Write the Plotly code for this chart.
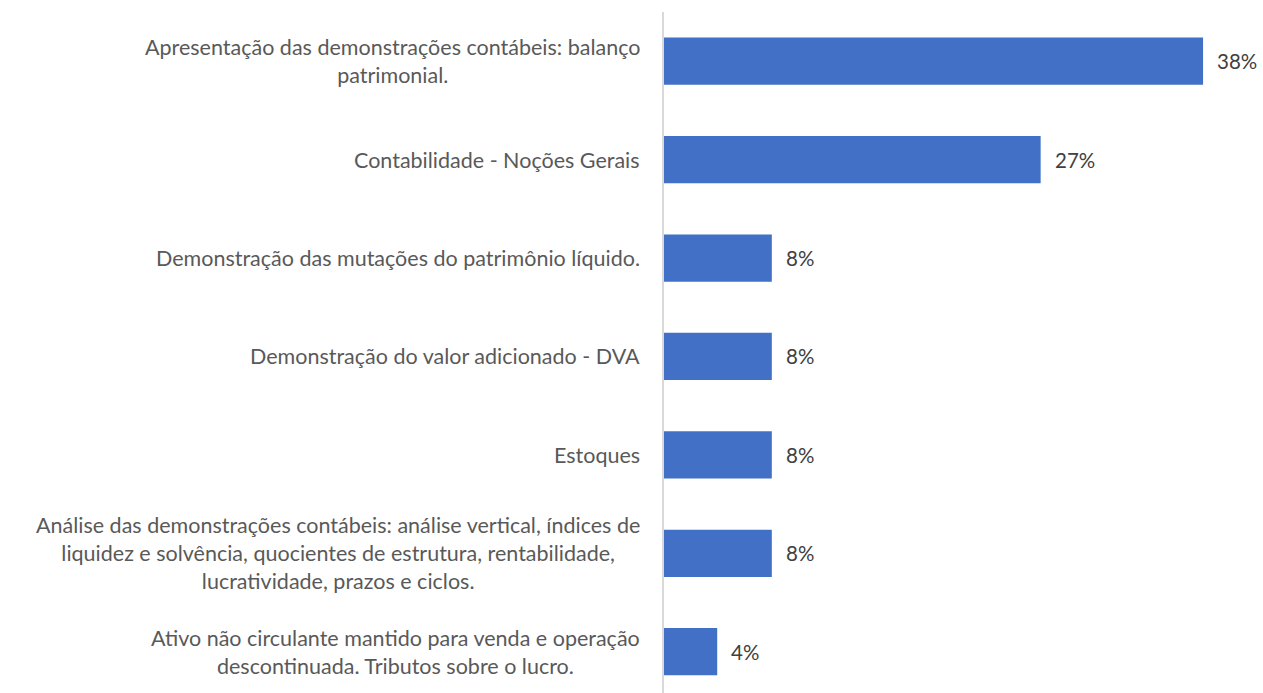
import plotly.graph_objects as go

categories = [
    "Apresentação das demonstrações contábeis: balanço<br>patrimonial.",
    "Contabilidade - Noções Gerais",
    "Demonstração das mutações do patrimônio líquido.",
    "Demonstração do valor adicionado - DVA",
    "Estoques",
    "Análise das demonstrações contábeis: análise vertical, índices de<br>liquidez e solvência, quocientes de estrutura, rentabilidade,<br>lucratividade, prazos e ciclos.",
    "Ativo não circulante mantido para venda e operação<br>descontinuada. Tributos sobre o lucro.",
]
values = [0.385, 0.269, 0.077, 0.077, 0.077, 0.077, 0.038]

FONT = "Lato"
idx = list(range(len(categories)))

fig = go.Figure()
fig.add_trace(go.Bar(
    y=idx, x=values, orientation="h",
    marker=dict(color="#4270C6", line=dict(width=0)),
    width=0.48,
    hoverinfo="skip",
))

annotations = []
for i, (c, v) in enumerate(zip(categories, values)):
    annotations.append(dict(
        x=0, xref="paper", y=i, yref="y", text=c, showarrow=False,
        xanchor="right", yanchor="middle", align="center", xshift=-22,
        font=dict(family=FONT, size=21.5, color="#595959"),
    ))
    annotations.append(dict(
        x=v, xref="x", y=i, yref="y", text=f"{v:.0%}", showarrow=False,
        xanchor="left", yanchor="middle", xshift=12,
        font=dict(family=FONT, size=20.5, color="#404040"),
    ))

fig.update_layout(
    width=1263, height=693,
    margin=dict(l=664, r=0, t=12, b=0),
    paper_bgcolor="white", plot_bgcolor="white",
    showlegend=False,
    annotations=annotations,
    xaxis=dict(range=[0, 0.4278], showgrid=False, zeroline=False,
               showticklabels=False, showline=False),
    yaxis=dict(range=[6.42, -0.5], showgrid=False, zeroline=False,
               showticklabels=False, showline=True, linecolor="#D9D9D9",
               linewidth=2, ticks=""),
)

fig.write_html("out.html",
               config={"displayModeBar": False},
               post_script="document.body.style.margin='0';document.body.style.overflow='hidden';")
